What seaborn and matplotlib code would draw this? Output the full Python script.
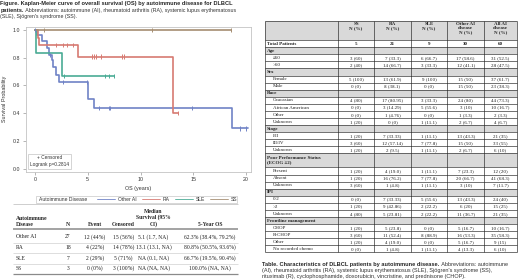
import numpy as np
import pandas as pd
import matplotlib
matplotlib.use("Agg")
import matplotlib.pyplot as plt
import seaborn as sns
from matplotlib.lines import Line2D
from matplotlib.patches import Rectangle

# ---------------- Kaplan-Meier data ----------------
groups = ["Other AI", "RA", "SLE", "SS"]
colors = ["#7083c6", "#d77a72", "#4aab95", "#a68e72"]

other_t = [0, 0.2, 0.7, 1.1, 1.3, 1.6, 1.7, 1.95, 2.3, 5.0, 5.6, 18.7, 20.2]
other_s = [1.0, 0.96, 0.92, 0.87, 0.82, 0.78, 0.73, 0.675, 0.623, 0.50, 0.436, 0.29, 0.29]
ra_t = [0, 0.25, 0.4, 4.05, 13.05, 13.6]
ra_s = [1.0, 0.944, 0.889, 0.808, 0.404, 0.404]
sle_t = [0, 0.1, 2.6, 7.5]
sle_s = [1.0, 0.833, 0.667, 0.667]
ss_t = [0, 18.6]
ss_s = [1.0, 1.0]

other_ct = [0.0, 1.4, 2.7, 4.9, 6.1, 7.0, 7.1, 14.9, 19.4, 20.0]
other_cs = [1.0, 0.82, 0.623, 0.623, 0.436, 0.436, 0.436, 0.436, 0.29, 0.29]
ra_ct = [2.0, 2.7, 3.0, 3.6, 5.4, 5.6, 5.8, 6.3, 8.2, 8.4, 13.6]
ra_cs = [0.889, 0.889, 0.889, 0.889, 0.808, 0.808, 0.808, 0.808, 0.808, 0.808, 0.404]
sle_ct = [2.75, 6.6, 7.0, 7.5]
sle_cs = [0.667, 0.667, 0.667, 0.667]
ss_ct = [0.9, 11.1, 18.6]
ss_cs = [1.0, 1.0, 1.0]

x_ticks = [0, 5, 10, 15, 20]
y_ticks = [0.0, 0.2, 0.4, 0.6, 0.8, 1.0]

# ---------------- Left table data ----------------
km_tab_header = ["Autoimmune\nDisease", "N", "Event", "Censored",
                 "Median\nSurvival (95%\nCI)", "5-Year OS"]
km_tab_group = ["Other AI", "RA", "SLE", "SS"]
km_tab_n = ["27", "18", "7", "3"]
km_tab_event = ["12 (44%)", "4 (22%)", "2 (29%)", "0 (0%)"]
km_tab_cens = ["15 (56%)", "14 (78%)", "5 (71%)", "3 (100%)"]
km_tab_median = ["5.1 (1.7, NA)", "13.1 (13.1, NA)", "NA (0.1, NA)", "NA (NA, NA)"]
km_tab_5y = ["62.3% (38.4%, 79.2%)", "80.8% (50.5%, 93.6%)",
             "66.7% (19.5%, 90.4%)", "100.0% (NA, NA)"]

# ---------------- Right table data ----------------
char_header = ["", "SS\nN (%)", "RA\nN (%)", "SLE\nN (%)",
               "Other AI\ndisease\nN (%)", "All AI\ndisease\nN (%)"]
char_labels = ["Total Patients", "Age", "≤60", ">60", "Sex", "Female", "Male",
               "Race", "Caucasian", "African American", "Other", "Unknown",
               "Stage", "I/II", "III/IV", "Unknown",
               "Poor Performance Status\n(ECOG ≥2)", "Present", "Absent", "Unknown",
               "IPI", "0-2", ">2", "Unknown",
               "Frontline management", "CHOP", "R-CHOP", "Other", "No recorded chemo"]
char_kind = ["total", "sec", "d", "d", "sec", "d", "d",
             "sec", "d", "d", "d", "d",
             "sec", "d", "d", "d",
             "sec2", "d", "d", "d",
             "sec", "d", "d", "d",
             "sec", "d", "d", "d", "d"]
ss_col = ["5", "", "3 (60)", "2 (40)", "", "5 (100)", "0 (0)", "", "4 (80)", "0 (0)", "0 (0)",
          "1 (20)", "", "1 (20)", "3 (60)", "1 (20)", "", "1 (20)", "1 (20)", "3 (60)", "",
          "0 (0)", "1 (20)", "4 (80)", "", "1 (20)", "3 (60)", "1 (20)", "0 (0)"]
ra_col = ["21", "", "7 (33.3)", "14 (66.7)", "", "13 (61.9)", "8 (38.1)", "", "17 (80.95)",
          "3 (14.29)", "1 (4.76)", "0 (0)", "", "7 (33.33)", "12 (57.14)", "2 (9.5)", "",
          "4 (19.0)", "16 (76.2)", "1 (4.8)", "", "7 (33.33)", "9 (42.86)", "5 (23.81)", "",
          "5 (23.8)", "11 (52.4)", "4 (19.0)", "1 (4.8)"]
sle_col = ["9", "", "6 (66.7)", "3 (33.3)", "", "9 (100)", "0 (0)", "", "3 (33.3)", "5 (55.6)",
           "0 (0)", "1 (11.1)", "", "1 (11.1)", "7 (77.8)", "1 (11.1)", "", "1 (11.1)",
           "7 (77.8)", "1 (11.1)", "", "5 (55.6)", "2 (22.2)", "2 (22.2)", "", "0 (0)",
           "8 (88.9)", "0 (0)", "1 (11.1)"]
oth_col = ["30", "", "17 (58.6)", "12 (41.1)", "", "15 (50)", "15 (50)", "", "24 (80)", "3 (10)",
           "1 (3.3)", "2 (6.7)", "", "13 (43.3)", "15 (50)", "2 (6.7)", "", "7 (23.3)",
           "20 (66.7)", "3 (10)", "", "13 (43.3)", "6 (20)", "11 (36.7)", "", "5 (16.7)",
           "16 (53.3)", "5 (16.7)", "4 (13.3)"]
all_col = ["60", "", "31 (52.5)", "28 (47.5)", "", "37 (61.7)", "23 (38.3)", "", "44 (73.3)",
           "10 (16.7)", "2 (3.3)", "4 (6.7)", "", "21 (35)", "33 (55)", "6 (10)", "", "12 (20)",
           "41 (68.3)", "7 (11.7)", "", "24 (40)", "15 (25)", "21 (35)", "", "10 (16.7)",
           "35 (58.3)", "9 (15)", "6 (10)"]

fig_title_bold1 = "Figure. Kaplan-Meier curve of overall survival (OS) by autoimmune disease for DLBCL"
fig_title_bold2 = "patients."
fig_title_reg2 = " Abbreviations: autoimmune (AI), rheumatoid arthritis (RA), systemic lupus erythematosus"
fig_title_reg3 = "(SLE), Sjögren's syndrome (SS)."
tab_cap_bold = "Table. Characteristics of DLBCL patients by autoimmune disease."
tab_cap_reg1 = " Abbreviations: autoimmune"
tab_cap_reg2 = "(AI), rheumatoid arthritis (RA), systemic lupus erythematosus (SLE), Sjögren's syndrome (SS),"
tab_cap_reg3 = "rituximab (R), cyclophosphamide, doxorubicin, vincristine, and prednisone (CHOP)."
legend_title = "Autoimmune Disease"

# ---------------- Style ----------------
sns.set_style("white")
plt.rcParams["font.family"] = ["Liberation Sans", "DejaVu Sans"]
SANS = ["Liberation Sans", "DejaVu Sans"]
SERIF = ["Liberation Serif", "DejaVu Serif"]

fig = plt.figure(figsize=(5.2, 2.8), dpi=100)
W, H = 520.0, 280.0

# overlay axes in pixel coordinates
ov = fig.add_axes([0, 0, 1, 1])
ov.set_xlim(0, 520)
ov.set_ylim(280, 0)
ov.axis("off")
ov.patch.set_alpha(0)

# ---------------- KM plot ----------------
axL, axR, axT, axB = 26, 251, 27, 171.5
ax = fig.add_axes([axL / W, 1 - axB / H, (axR - axL) / W, (axB - axT) / H])

lines_df = pd.concat([
    pd.DataFrame({"group": g, "t": t, "s": s})
    for g, t, s in zip(groups, [other_t, ra_t, sle_t, ss_t], [other_s, ra_s, sle_s, ss_s])
], ignore_index=True)
cens_df = pd.concat([
    pd.DataFrame({"group": g, "t": t, "s": s})
    for g, t, s in zip(groups, [other_ct, ra_ct, sle_ct, ss_ct], [other_cs, ra_cs, sle_cs, ss_cs])
], ignore_index=True)

pal = dict(zip(groups, colors))
sns.lineplot(data=lines_df, x="t", y="s", hue="group", hue_order=groups, palette=pal,
             drawstyle="steps-post", estimator=None, sort=False, legend=False,
             linewidth=1.2, ax=ax)
sns.scatterplot(data=cens_df, x="t", y="s", hue="group", hue_order=groups, palette=pal,
                marker="|", s=9, linewidth=0.7, legend=False, ax=ax, zorder=3)

ax.set_xlim(-0.85, 20.47)
ax.set_ylim(-0.02, 1.021)
ax.set_xticks(x_ticks)
ax.set_xticklabels([str(v) for v in x_ticks])
ax.set_yticks(y_ticks)
ax.set_yticklabels([f"{v:.1f}" for v in y_ticks])
ax.tick_params(axis="both", labelsize=3.8, length=2, width=0.5, color="#999999",
               labelcolor="#333333", pad=2, direction="out")
ax.tick_params(axis="x", bottom=True)
ax.tick_params(axis="y", left=True)
for sp in ax.spines.values():
    sp.set_color("#c4c4c4")
    sp.set_linewidth(0.6)
ax.set_xlabel("OS (years)", fontsize=3.9, color="#333333", labelpad=2.5)
ax.set_ylabel("Survival Probability", fontsize=3.9, color="#333333", labelpad=4)

ax.text(0.105, 0.028, "+ Censored\nLogrank p=0.2814", transform=ax.transAxes,
        fontsize=3.4, color="#333333", ha="center", va="bottom", linespacing=1.5,
        multialignment="center",
        bbox=dict(boxstyle="square,pad=0.35", fc="white", ec="#c4c4c4", lw=0.5))

# legend below the plot (title drawn inline to the left, frame around both)
handles = [Line2D([], [], color=c, lw=0.6) for c in colors]
leg = ax.legend(handles, groups, ncol=4, loc="center left",
                bbox_to_anchor=(97 / W, 1 - 199.6 / H), bbox_transform=fig.transFigure,
                fontsize=3.6, frameon=False, handlelength=3.6, handletextpad=0.6,
                columnspacing=1.0, borderpad=0, borderaxespad=0)
for t in leg.get_texts():
    t.set_color("#333333")
ov.add_patch(Rectangle((36, 196.2), 201, 6.8, fc="white", ec="#c8c8c8", lw=0.5, zorder=0))
ov.text(39, 199.6, legend_title, fontsize=3.6, color="#333333", ha="left", va="center",
        family=SANS)

# ---------------- Title (left) ----------------
renderer = fig.canvas.get_renderer()
tfs_b = 4.05
tfs_r = 3.75
ov.text(0.5, 3.5, fig_title_bold1, fontsize=tfs_b, fontweight="bold", va="center", ha="left",
        family=SANS)
tb = ov.text(0.5, 10.2, fig_title_bold2, fontsize=tfs_b, fontweight="bold", va="center",
             ha="left", family=SANS)
wb = tb.get_window_extent(renderer).width
ov.text(0.5 + wb, 10.2, fig_title_reg2, fontsize=tfs_r, va="center", ha="left",
        family=SANS, color="#333333")
ov.text(0.5, 16.9, fig_title_reg3, fontsize=tfs_r, va="center", ha="left", family=SANS,
        color="#333333")

# ---------------- Left table ----------------
lt_x0, lt_x1 = 13, 238
col_x = [16, 68, 95, 123.5, 153.5, 210]
tfs2 = 4.1
ov.hlines(204.3, lt_x0, lt_x1, color="#bbbbbb", lw=0.5)
for j, h in enumerate(km_tab_header):
    ov.text(col_x[j], 227.3, h, fontsize=tfs2, fontweight="bold", family=SERIF,
            ha="left" if j == 0 else "center", va="bottom", linespacing=1.25,
            multialignment="left" if j == 0 else "center")
ov.hlines(229.4, lt_x0, lt_x1, color="#8a8a8a", lw=1.1)
row_y = [236.9, 247.6, 258.3, 268.6]
cols = [km_tab_group, km_tab_n, km_tab_event, km_tab_cens, km_tab_median, km_tab_5y]
for i, y in enumerate(row_y):
    for j, c in enumerate(cols):
        ov.text(col_x[j], y, c[i], fontsize=tfs2, family=SERIF,
                ha="left" if j == 0 else "center", va="center", color="#222222")
for y in [242.5, 253.1, 263.7]:
    ov.hlines(y, lt_x0, lt_x1, color="#d0d0d0", lw=0.5)
ov.hlines(273.6, lt_x0, lt_x1, color="#8a8a8a", lw=0.9)

# ---------------- Right table ----------------
cb = [265, 337.7, 374.3, 410.7, 447.3, 484, 516.7]
ht, hb = 20.7, 40.2
unit = 7.07
gray = "#d9d9d9"
rfs = 3.6
ov.add_patch(Rectangle((cb[0], ht), cb[-1] - cb[0], hb - ht, fc=gray, ec="none", zorder=0))
for j, h in enumerate(char_header[1:], start=1):
    ov.text((cb[j] + cb[j + 1]) / 2, ht + 0.9, h, fontsize=rfs, fontweight="bold",
            family=SERIF, ha="center", va="top", linespacing=1.12)
y = hb
bounds = [ht, hb]
value_cols = [ss_col, ra_col, sle_col, oth_col, all_col]
for i, (lab, kind) in enumerate(zip(char_labels, char_kind)):
    h = unit * (2 if kind == "sec2" else 1)
    if kind.startswith("sec"):
        ov.add_patch(Rectangle((cb[0], y), cb[-1] - cb[0], h, fc=gray, ec="none", zorder=0))
        ov.text(cb[0] + 1.8, y + h / 2 + 0.2, lab, fontsize=rfs, fontweight="bold",
                family=SERIF, ha="left", va="center", linespacing=1.3)
    elif kind == "total":
        ov.text(cb[0] + 1.8, y + h / 2 + 0.2, lab, fontsize=rfs, fontweight="bold",
                family=SERIF, ha="left", va="center")
    else:
        ov.text(cb[0] + 8, y + h / 2 + 0.2, lab, fontsize=rfs, family=SERIF,
                ha="left", va="center", color="#222222")
    for j, vc in enumerate(value_cols):
        if vc[i]:
            ov.text((cb[j + 1] + cb[j + 2]) / 2, y + h / 2 + 0.2, vc[i], fontsize=rfs,
                    family=SERIF, ha="center", va="center",
                    fontweight="bold" if kind == "total" else "normal", color="#222222")
    y += h
    bounds.append(y)
for b in bounds:
    ov.hlines(b, cb[0], cb[-1], color="#222222", lw=0.45)
for c in cb:
    ov.vlines(c, ht, bounds[-1], color="#222222", lw=0.45)

# ---------------- Caption (right) ----------------
cfs_b = 4.05
cfs_r = 3.95
cy = [264.2, 270.2, 276.2]
tb2 = ov.text(262.5, cy[0], tab_cap_bold, fontsize=cfs_b, fontweight="bold", va="center",
              ha="left", family=SANS)
wb2 = tb2.get_window_extent(renderer).width
ov.text(262.5 + wb2, cy[0], tab_cap_reg1, fontsize=cfs_r, va="center", ha="left",
        family=SANS, color="#333333")
ov.text(262.5, cy[1], tab_cap_reg2, fontsize=cfs_r, va="center", ha="left", family=SANS,
        color="#333333")
ov.text(262.5, cy[2], tab_cap_reg3, fontsize=cfs_r, va="center", ha="left", family=SANS,
        color="#333333")

fig.savefig("out.png", dpi=100)
